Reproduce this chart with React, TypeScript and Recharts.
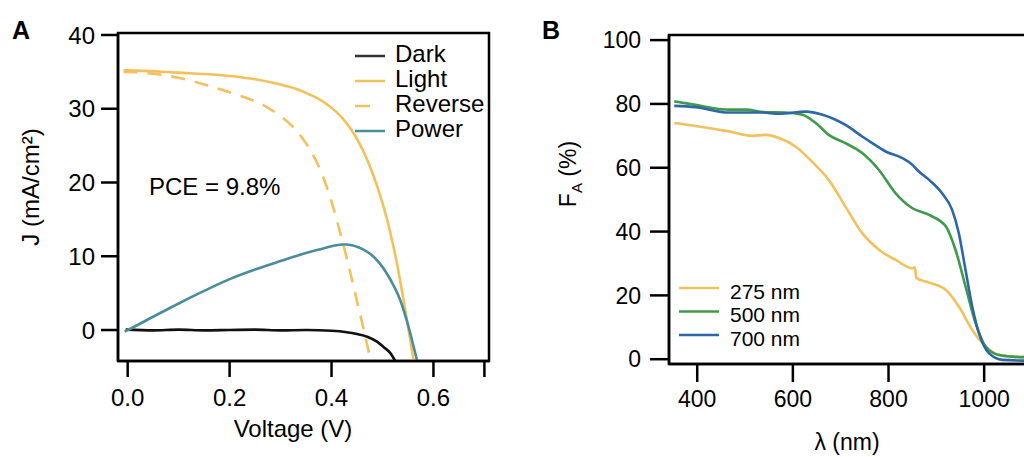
import React from 'react';
import { LineChart, Line, XAxis, YAxis, ReferenceArea } from 'recharts';

// panel A: J-V curves
const darkV = [-0.004, 0.05, 0.1, 0.15, 0.2, 0.25, 0.3, 0.35, 0.4, 0.43, 0.45, 0.47, 0.49, 0.502, 0.515, 0.525];
const darkJ = [0.05, -0.05, 0.05, -0.05, 0.0, 0.05, -0.05, 0.0, -0.1, -0.3, -0.55, -0.9, -1.6, -2.3, -3.1, -4.2];
const lightV = [-0.008, 0, 0.1, 0.2, 0.25, 0.29, 0.31, 0.33, 0.35, 0.37, 0.39, 0.41, 0.43, 0.45, 0.47, 0.489, 0.5, 0.51, 0.52, 0.53, 0.541, 0.551, 0.561];
const lightJ = [35.2, 35.2, 34.9, 34.45, 34.0, 33.45, 33.1, 32.7, 32.15, 31.5, 30.65, 29.55, 28.0, 25.9, 23.1, 19.6, 17.2, 14.7, 11.8, 8.45, 4.2, 0.1, -4.2];
const reverseV = [-0.008, 0, 0.05, 0.1, 0.15, 0.21, 0.25, 0.276, 0.3, 0.322, 0.345, 0.361, 0.381, 0.4, 0.42, 0.434, 0.45, 0.465, 0.477];
const reverseJ = [35.0, 35.0, 34.75, 34.2, 33.3, 32.0, 31.0, 30.1, 29.0, 27.7, 25.8, 24.1, 21.2, 17.4, 12.4, 8.6, 3.9, -0.5, -4.2];
const powerV = [-0.006, 0, 0.05, 0.1, 0.15, 0.2, 0.25, 0.3, 0.35, 0.38, 0.4, 0.41, 0.42, 0.43, 0.44, 0.45, 0.46, 0.48, 0.495, 0.51, 0.522, 0.534, 0.548, 0.568];
const powerP = [-0.2, 0, 1.8, 3.6, 5.3, 6.9, 8.2, 9.35, 10.45, 11.0, 11.35, 11.5, 11.6, 11.6, 11.5, 11.3, 11.0, 10.1, 9.0, 7.5, 6.0, 4.2, 1.2, -4.2];
const aTicksX = [0, 0.2, 0.4, 0.6, 0.7];
const aTicksY = [0, 10, 20, 30, 40];

// panel B: fraction absorbed vs wavelength
const nm275L = [352, 396, 466, 515, 543, 571, 606, 640, 675, 710, 745, 780, 815, 850, 855, 858, 885, 920, 947, 975, 1003, 1031, 1059, 1100];
const nm275F = [74.0, 73.1, 71.4, 70.0, 70.3, 69.3, 66.6, 61.9, 56.2, 47.8, 39.5, 34.3, 31.1, 28.5, 28.8, 25.5, 24.0, 21.7, 16.5, 9.2, 4.0, 1.3, 0.8, 0.6];
const nm500L = [352, 396, 466, 501, 543, 585, 620, 648, 675, 710, 745, 780, 815, 850, 885, 920, 940, 961, 982, 1003, 1031, 1059, 1100];
const nm500F = [80.8, 79.7, 78.2, 78.2, 77.4, 77.3, 76.6, 74.0, 70.3, 67.7, 64.6, 59.3, 52.0, 47.3, 45.2, 41.6, 34.3, 22.8, 11.3, 4.0, 1.3, 0.8, 0.6];
const nm700L = [352, 396, 466, 536, 571, 627, 662, 710, 745, 766, 794, 829, 850, 860, 885, 912, 933, 947, 961, 975, 989, 1010, 1038, 1100];
const nm700F = [79.4, 79.0, 77.3, 77.3, 76.9, 77.6, 76.6, 73.4, 69.8, 67.7, 65.1, 63.0, 60.9, 59.3, 56.2, 52.0, 46.8, 39.5, 28.0, 16.5, 8.2, 1.9, -0.2, -0.5];
const bTicksX = [400, 600, 800, 1000];
const bTicksY = [0, 20, 40, 60, 80, 100];

const zip = (xs: number[], ys: number[]) => xs.map((x, i) => ({ x, y: ys[i] }));

const YELLOW = '#f2c15c';
const TEAL = '#4b8c9c';
const GREEN = '#3f9a4c';
const BLUE = '#2d67a6';
const FONT = "'Liberation Sans', Arial, Helvetica, sans-serif";

const aX: [number, number] = [-0.019, 0.709];
const aY: [number, number] = [-4.2, 40.27];
const bX: [number, number] = [341, 1100];
const bY: [number, number] = [-1.5, 101.6];

function PanelA() {
  return (
    <LineChart width={512} height={457} margin={{ top: 33, right: 23, bottom: 0, left: 0 }}>
      <XAxis type="number" dataKey="x" domain={aX} ticks={aTicksX} allowDataOverflow
        tickFormatter={(v: number) => (v === 0.7 ? '' : v.toFixed(1))}
        height={96} tickSize={16} tickMargin={12}
        stroke="#000" strokeWidth={2.5} tick={{ fill: '#000', fontSize: 24 }} />
      <YAxis type="number" dataKey="y" domain={aY} ticks={aTicksY} allowDataOverflow
        width={118} tickSize={17} tickMargin={6}
        stroke="#000" strokeWidth={2.5} tick={{ fill: '#000', fontSize: 24 }} />
      <ReferenceArea x1={aX[0]} x2={aX[1]} y1={aY[0]} y2={aY[1]} fill="none" stroke="#000" strokeWidth={2.5} />
      <Line type="monotone" data={zip(darkV, darkJ)} dataKey="y" stroke="#111" strokeWidth={2.6} dot={false} isAnimationActive={false} />
      <Line type="monotone" data={zip(reverseV, reverseJ)} dataKey="y" stroke={YELLOW} strokeWidth={2.6} strokeDasharray="14 10" dot={false} isAnimationActive={false} />
      <Line type="monotone" data={zip(lightV, lightJ)} dataKey="y" stroke={YELLOW} strokeWidth={2.6} dot={false} isAnimationActive={false} />
      <Line type="monotone" data={zip(powerV, powerP)} dataKey="y" stroke={TEAL} strokeWidth={2.6} dot={false} isAnimationActive={false} />
    </LineChart>
  );
}

function PanelB() {
  return (
    <LineChart width={540} height={457} margin={{ top: 35, right: 20, bottom: 0, left: 0 }}>
      <XAxis type="number" dataKey="x" domain={bX} ticks={bTicksX} allowDataOverflow
        height={93} tickSize={18} tickMargin={9}
        stroke="#000" strokeWidth={2.5} tick={{ fill: '#000', fontSize: 23 }} />
      <YAxis type="number" dataKey="y" domain={bY} ticks={bTicksY} allowDataOverflow
        width={157} tickSize={19} tickMargin={9}
        stroke="#000" strokeWidth={2.5} tick={{ fill: '#000', fontSize: 23 }} />
      <ReferenceArea x1={bX[0]} x2={bX[1]} y1={bY[0]} y2={bY[1]} fill="none" stroke="#000" strokeWidth={2.5} />
      <Line type="monotone" data={zip(nm275L, nm275F)} dataKey="y" stroke={YELLOW} strokeWidth={2.6} dot={false} isAnimationActive={false} />
      <Line type="monotone" data={zip(nm500L, nm500F)} dataKey="y" stroke={GREEN} strokeWidth={2.6} dot={false} isAnimationActive={false} />
      <Line type="monotone" data={zip(nm700L, nm700F)} dataKey="y" stroke={BLUE} strokeWidth={2.6} dot={false} isAnimationActive={false} />
    </LineChart>
  );
}

const legendA = [
  { name: 'Dark', color: '#333', dash: false },
  { name: 'Light', color: YELLOW, dash: false },
  { name: 'Reverse', color: YELLOW, dash: true },
  { name: 'Power', color: TEAL, dash: false },
];
const legendB = [
  { name: '275 nm', color: YELLOW },
  { name: '500 nm', color: GREEN },
  { name: '700 nm', color: BLUE },
];

export default function App() {
  return (
    <div style={{ position: 'absolute', left: 0, top: 0, width: 1024, height: 457, overflow: 'hidden', background: '#fff', fontFamily: FONT }}>
      <div style={{ position: 'absolute', left: 0, top: 0 }}><PanelA /></div>
      <div style={{ position: 'absolute', left: 512, top: 0 }}><PanelB /></div>
      <svg width={1024} height={457} style={{ position: 'absolute', left: 0, top: 0, pointerEvents: 'none' }}>
        <g fontFamily={FONT} fill="#000">
          <text x={12} y={39} fontSize={25} fontWeight="bold">A</text>
          <text x={542} y={39} fontSize={25} fontWeight="bold">B</text>
          <text x={149} y={195} fontSize={24}>PCE = 9.8%</text>
          <text x={293} y={437} fontSize={24} textAnchor="middle">Voltage (V)</text>
          <text transform="translate(39,187) rotate(-90)" fontSize={24} textAnchor="middle">J (mA/cm²)</text>
          <text x={847} y={450} fontSize={23} textAnchor="middle">λ (nm)</text>
          <text transform="translate(576,174) rotate(-90)" fontSize={23} textAnchor="middle">
            F<tspan fontSize={15} dy={6}>A</tspan><tspan dy={-6}> (%)</tspan>
          </text>
          {legendA.map((d, i) => (
            <g key={d.name}>
              <line x1={355} x2={d.dash ? 370 : 385} y1={56 + i * 25} y2={56 + i * 25} stroke={d.color} strokeWidth={2.5} />
              <text x={395} y={62 + i * 25} fontSize={24}>{d.name}</text>
            </g>
          ))}
          {legendB.map((d, i) => (
            <g key={d.name}>
              <line x1={679} x2={719} y1={288 + i * 23.5} y2={288 + i * 23.5} stroke={d.color} strokeWidth={2.6} />
              <text x={730} y={299 + i * 23.3} fontSize={21}>{d.name}</text>
            </g>
          ))}
        </g>
      </svg>
    </div>
  );
}
